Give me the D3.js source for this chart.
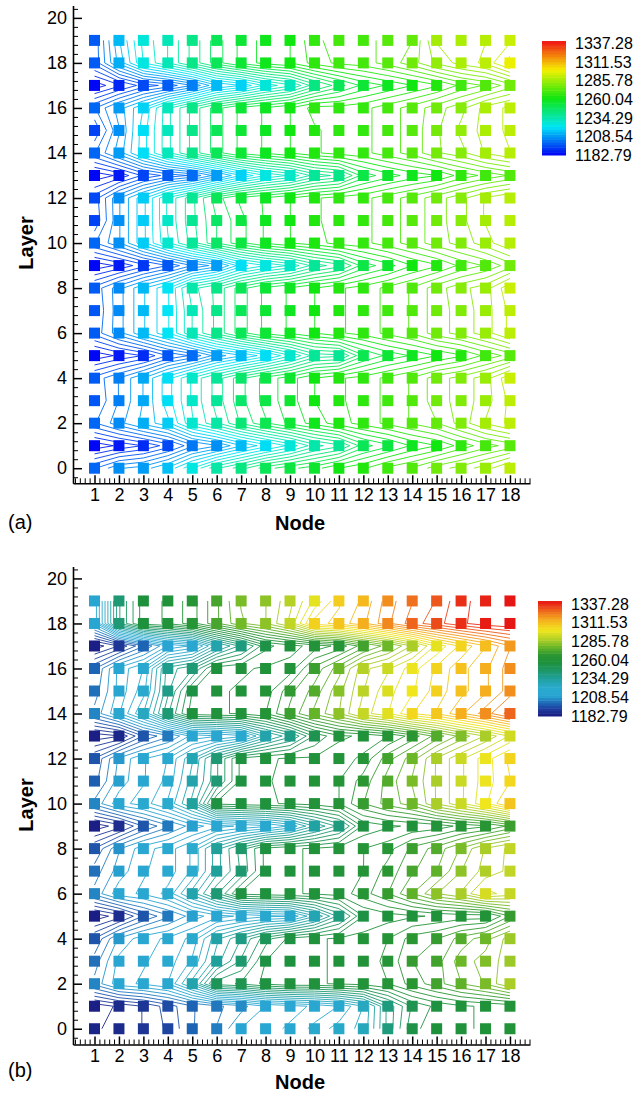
<!DOCTYPE html>
<html>
<head>
<meta charset="utf-8">
<script src="https://cdn.jsdelivr.net/npm/d3@7"></script>
<style>
  body { margin: 0; background: #fff; }
  svg { display: block; }
  text { font-family: "Liberation Sans", Arial, Helvetica, sans-serif; fill: #000; }
</style>
</head>
<body>
<svg id="chart" width="643" height="1097"></svg>
<script>
// ── Data ──────────────────────────────────────────────────────────────────────
const NODES  = d3.range(1, 19);          // 1..18
const LAYERS = d3.range(0, 20);          // 0..19
const T_MIN = 1182.79, T_MAX = 1337.28;
const LEGEND_LABELS = [1182.79, 1208.54, 1234.29, 1260.04, 1285.78, 1311.53, 1337.28];
const X_TICKS = d3.range(1, 19);
const Y_TICKS = [0, 2, 4, 6, 8, 10, 12, 14, 16, 18, 20];

// temperatures, one row per layer (row 0 = layer 0), one value per node 1..18
const tempsA = [
  [1200,1207,1209,1215,1225,1235,1241,1248,1252,1255,1260,1263,1268,1271,1276,1279,1283,1289], // 0
  [1184,1187,1190,1195,1203,1207,1214,1220,1226,1234,1238,1248,1252,1257,1260,1265,1269,1272], // 1
  [1200,1206,1212,1217,1228,1235,1243,1249,1254,1258,1262,1265,1268,1271,1274,1279,1285,1289], // 2
  [1197,1204,1211,1220,1229,1237,1245,1251,1255,1260,1263,1265,1268,1271,1276,1279,1283,1289], // 3
  [1198,1204,1211,1220,1229,1237,1245,1251,1255,1260,1263,1265,1268,1271,1276,1279,1283,1291], // 4
  [1184,1187,1190,1197,1201,1209,1214,1220,1228,1237,1238,1249,1254,1257,1260,1263,1268,1272], // 5
  [1198,1206,1214,1221,1232,1240,1248,1254,1257,1260,1263,1265,1268,1271,1276,1279,1283,1289], // 6
  [1197,1206,1214,1221,1232,1240,1248,1254,1257,1260,1263,1265,1268,1271,1276,1279,1283,1289], // 7
  [1198,1206,1214,1221,1234,1240,1248,1254,1257,1260,1263,1265,1268,1271,1276,1280,1283,1291], // 8
  [1184,1187,1192,1197,1204,1209,1220,1225,1229,1237,1241,1251,1255,1260,1263,1268,1271,1276], // 9
  [1200,1207,1217,1228,1237,1246,1252,1257,1260,1262,1265,1266,1269,1272,1276,1279,1283,1288], // 10
  [1194,1207,1217,1229,1238,1246,1252,1257,1260,1263,1265,1266,1269,1272,1276,1280,1285,1288], // 11
  [1195,1207,1217,1229,1238,1248,1254,1257,1260,1263,1265,1266,1269,1272,1276,1280,1285,1288], // 12
  [1184,1187,1194,1198,1201,1209,1218,1225,1229,1237,1240,1251,1255,1258,1260,1265,1268,1271], // 13
  [1200,1209,1220,1231,1240,1248,1254,1257,1260,1263,1265,1266,1269,1272,1277,1280,1285,1288], // 14
  [1194,1207,1220,1231,1240,1248,1254,1257,1260,1263,1265,1266,1269,1272,1277,1282,1286,1289], // 15
  [1200,1209,1218,1231,1240,1248,1254,1257,1260,1265,1265,1266,1269,1272,1276,1280,1286,1289], // 16
  [1184,1189,1195,1198,1204,1214,1218,1226,1231,1241,1248,1254,1257,1260,1263,1268,1271,1276], // 17
  [1198,1212,1225,1232,1240,1248,1254,1258,1260,1265,1268,1269,1272,1276,1282,1286,1289,1297], // 18
  [1198,1214,1226,1232,1240,1248,1254,1258,1260,1266,1269,1269,1272,1274,1285,1286,1288,1291]  // 19
];

const tempsB = [
  [1186,1187,1190,1194,1200,1204,1211,1213,1215,1219,1223,1226,1240,1252,1255,1256,1257,1258], // 0
  [1184,1187,1190,1195,1200,1203,1206,1211,1213,1215,1218,1225,1240,1250,1254,1256,1257,1258], // 1
  [1205,1213,1215,1218,1230,1248,1250,1254,1256,1256,1257,1258,1260,1265,1269,1274,1278,1285], // 2
  [1202,1212,1214,1216,1222,1234,1243,1253,1255,1256,1257,1258,1261,1267,1269,1276,1279,1283], // 3
  [1197,1208,1213,1215,1219,1231,1239,1248,1254,1256,1257,1258,1260,1265,1267,1272,1276,1283], // 4
  [1184,1188,1197,1203,1209,1213,1215,1217,1218,1228,1240,1253,1255,1256,1257,1258,1258,1267], // 5
  [1205,1213,1215,1219,1230,1242,1254,1255,1256,1257,1258,1262,1267,1274,1281,1285,1293,1290], // 6
  [1202,1209,1214,1216,1222,1234,1243,1254,1256,1257,1258,1260,1265,1270,1274,1281,1286,1289], // 7
  [1197,1207,1213,1216,1222,1234,1244,1254,1256,1257,1258,1260,1262,1268,1272,1278,1285,1289], // 8
  [1184,1188,1197,1203,1209,1213,1215,1217,1222,1232,1240,1254,1256,1257,1258,1261,1263,1268], // 9
  [1205,1213,1216,1222,1233,1254,1255,1256,1257,1258,1260,1267,1272,1276,1285,1291,1298,1307], // 10
  [1199,1209,1214,1219,1230,1242,1254,1256,1258,1259,1260,1265,1272,1278,1285,1291,1297,1302], // 11
  [1197,1208,1214,1218,1228,1242,1254,1256,1257,1257,1258,1261,1269,1276,1285,1291,1297,1303], // 12
  [1184,1186,1197,1203,1212,1214,1217,1230,1238,1250,1256,1257,1260,1265,1272,1279,1285,1292], // 13
  [1205,1214,1225,1242,1255,1256,1257,1260,1268,1275,1281,1290,1295,1302,1306,1312,1318,1325], // 14
  [1202,1212,1220,1238,1253,1256,1257,1258,1266,1272,1280,1288,1294,1298,1304,1308,1312,1318], // 15
  [1200,1212,1218,1237,1242,1255,1256,1257,1258,1268,1276,1287,1291,1297,1303,1308,1312,1318], // 16
  [1184,1190,1200,1211,1215,1230,1240,1252,1255,1258,1261,1269,1276,1285,1296,1303,1309,1316], // 17
  [1212,1242,1255,1257,1262,1270,1277,1281,1289,1304,1307,1312,1319,1325,1329,1333,1336,1337], // 18
  [1212,1242,1255,1257,1262,1270,1278,1281,1287,1296,1305,1310,1318,1323,1327,1333,1335,1337]  // 19
];

// colour maps: (a) classic rainbow, (b) banded "modern" map
const STOPS_A  = [T_MIN, 1221.41, 1260.04, 1298.66, T_MAX];
const COLORS_A = ["#0000f5", "#00e6f5", "#10e610", "#f5f000", "#f01414"];
const STOPS_B  = [T_MIN, 1192, 1200, 1210, 1222, 1235, 1245, 1255, 1265, 1275, 1285, 1298, 1310, 1322, T_MAX];
const COLORS_B = ["#1a1a80","#1e3c9b","#1e64b4","#28a5d2","#2aaacd","#1e9f96","#1e9664","#1e913c",
                  "#2a9632","#64b428","#aacd28","#f0e61e","#f5b91e","#f0781e","#e61414"];

const N_LEVELS = 44;
const LEVELS = d3.range(1, N_LEVELS).map(k => T_MIN + k * (T_MAX - T_MIN) / N_LEVELS);

// ── Helpers ───────────────────────────────────────────────────────────────────
const colorA = d3.scaleLinear().domain(STOPS_A).range(COLORS_A).clamp(true);
const colorB = d3.scaleLinear().domain(STOPS_B).range(COLORS_B).clamp(true);

// marching squares on the node x layer grid -> segments in data coords
function isoSegments(grid, level) {
  const segs = [];
  for (let j = 0; j < grid.length - 1; j++) {
    for (let i = 0; i < grid[0].length - 1; i++) {
      const c = [[i, j, grid[j][i]], [i + 1, j, grid[j][i + 1]],
                 [i + 1, j + 1, grid[j + 1][i + 1]], [i, j + 1, grid[j + 1][i]]];
      const pts = [];
      for (let k = 0; k < 4; k++) {
        const a = c[k], b = c[(k + 1) % 4];
        if ((a[2] < level) !== (b[2] < level)) {
          const f = (level - a[2]) / (b[2] - a[2]);
          pts.push([a[0] + f * (b[0] - a[0]), a[1] + f * (b[1] - a[1])]);
        }
      }
      if (pts.length === 2) segs.push(pts);
      else if (pts.length === 4) {
        const mid = d3.mean(c, d => d[2]);
        if ((mid < level) === (c[0][2] < level)) { segs.push([pts[0], pts[1]]); segs.push([pts[2], pts[3]]); }
        else { segs.push([pts[3], pts[0]]); segs.push([pts[1], pts[2]]); }
      }
    }
  }
  return segs;
}

// ── Layout ────────────────────────────────────────────────────────────────────
const svg = d3.select("#chart");
const x = d3.scaleLinear().domain([0.12, 18.82]).range([73, 530]);
const SQ = 11;

const panels = [
  { tag: "(a)", temps: tempsA, color: colorA,
    yDomain: [-0.67, 20.55], yRange: [483.3, 5.5],
    legend: { x: 542, top: 41, bottom: 155, labelTop: 43.5 },
    layerY: 243, nodeY: 530, tagY: 529 },
  { tag: "(b)", temps: tempsB, color: colorB,
    yDomain: [-0.7, 20.53], yRange: [1044.5, 566.5],
    legend: { x: 538, top: 601, bottom: 716, labelTop: 604 },
    layerY: 805, nodeY: 1089, tagY: 1077 }
];

panels.forEach(p => {
  const y = d3.scaleLinear().domain(p.yDomain).range(p.yRange);
  const g = svg.append("g");

  // contour lines
  const line = d3.line().x(d => x(d[0] + 1)).y(d => y(d[1]));
  const gl = g.append("g").attr("fill", "none").attr("stroke-width", 0.9);
  LEVELS.forEach(lv => {
    gl.append("path")
      .attr("stroke", p.color(lv))
      .attr("d", isoSegments(p.temps, lv).map(s => line(s)).join(""));
  });

  // node squares
  const cells = LAYERS.flatMap(l => NODES.map(n => ({ n, l, t: p.temps[l][n - 1] })));
  g.append("g").selectAll("rect").data(cells).join("rect")
    .attr("x", d => x(d.n) - SQ / 2)
    .attr("y", d => y(d.l) - SQ / 2)
    .attr("width", SQ).attr("height", SQ)
    .attr("fill", d => p.color(d.t));

  // axes
  const yBase = p.yRange[0];
  const xMinor = d3.range(0.2, 18.81, 0.2).filter(v => Math.abs(v - Math.round(v)) > 0.01);
  g.append("g").attr("transform", `translate(0,${yBase})`)
    .call(d3.axisBottom(x).tickValues(xMinor).tickSize(-5).tickSizeOuter(0).tickFormat(""))
    .call(a => a.selectAll("line").attr("stroke-width", 1))
    .call(a => a.select(".domain").attr("stroke-width", 1.6));
  g.append("g").attr("transform", `translate(0,${yBase})`)
    .call(d3.axisBottom(x).tickValues(X_TICKS).tickSize(-8).tickSizeOuter(0).tickPadding(5).tickFormat(d3.format("d")))
    .call(a => a.select(".domain").remove())
    .call(a => a.selectAll("line").attr("stroke-width", 1.5))
    .call(a => a.selectAll("text").attr("font-size", 18).attr("font-family", null));

  const yMinor = d3.range(-0.4, 20.5, 0.4).filter(v => Math.abs(v / 2 - Math.round(v / 2)) > 0.01);
  g.append("g").attr("transform", `translate(${x.range()[0]},0)`)
    .call(d3.axisLeft(y).tickValues(yMinor).tickSize(-5).tickSizeOuter(0).tickFormat(""))
    .call(a => a.selectAll("line").attr("stroke-width", 1))
    .call(a => a.select(".domain").attr("stroke-width", 1.6));
  g.append("g").attr("transform", `translate(${x.range()[0]},0)`)
    .call(d3.axisLeft(y).tickValues(Y_TICKS).tickSize(-9).tickSizeOuter(0).tickPadding(6).tickFormat(d3.format("d")))
    .call(a => a.select(".domain").remove())
    .call(a => a.selectAll("line").attr("stroke-width", 1.5))
    .call(a => a.selectAll("text").attr("font-size", 18).attr("font-family", null));

  // titles
  g.append("text").attr("transform", `translate(33,${p.layerY}) rotate(-90)`)
    .attr("text-anchor", "middle").attr("font-size", 20).attr("font-weight", "bold").text("Layer");
  g.append("text").attr("x", 300).attr("y", p.nodeY)
    .attr("text-anchor", "middle").attr("font-size", 20).attr("font-weight", "bold").text("Node");
  g.append("text").attr("x", 8).attr("y", p.tagY).attr("font-size", 20).text(p.tag);

  // colour legend
  const L = p.legend;
  const ly = d3.scaleLinear().domain([T_MIN, T_MAX]).range([L.bottom, L.top]);
  const step = (T_MAX - T_MIN) / N_LEVELS;
  const bands = d3.range(N_LEVELS).map(k => T_MIN + k * step);
  g.append("g").selectAll("rect").data(bands).join("rect")
    .attr("x", L.x).attr("width", 24)
    .attr("y", d => ly(d + step))
    .attr("height", d => ly(d) - ly(d + step) + 0.5)
    .attr("fill", d => p.color(d + step / 2));
  const lyLab = d3.scaleLinear().domain([T_MIN, T_MAX]).range([L.bottom, L.labelTop]);
  g.append("g").selectAll("text").data(LEGEND_LABELS).join("text")
    .attr("x", L.x + 33).attr("y", d => lyLab(d)).attr("dy", "0.36em")
    .attr("font-size", 16).text(d => d.toFixed(2));
});
</script>
</body>
</html>
